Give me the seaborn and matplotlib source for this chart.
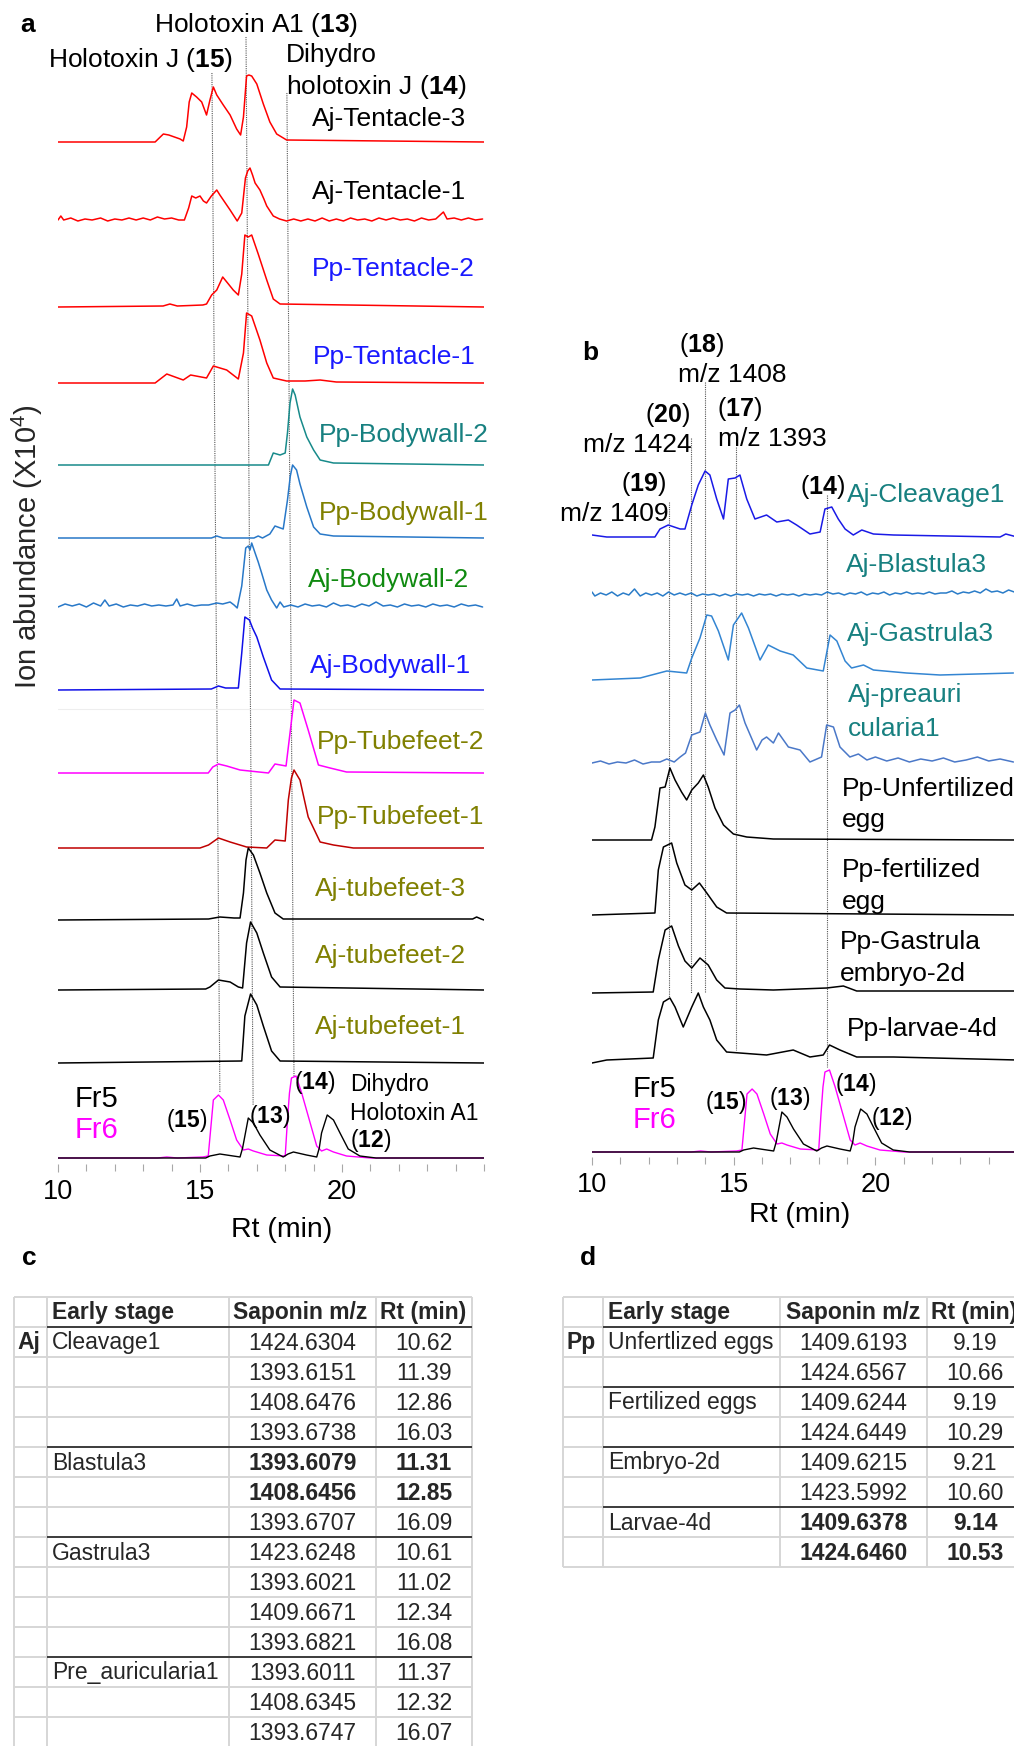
import matplotlib
matplotlib.use('Agg')
import matplotlib.pyplot as plt
import seaborn as sns
import numpy as np

sns.set_theme(style='white')
plt.rcParams['font.family'] = ['Liberation Sans', 'DejaVu Sans']
plt.rcParams['mathtext.fontset'] = 'custom'
plt.rcParams['mathtext.rm'] = 'Liberation Sans'
plt.rcParams['mathtext.bf'] = 'Liberation Sans:bold'
plt.rcParams['mathtext.it'] = 'Liberation Sans:italic'

# ---------------- DATA: panel a chromatograms (Rt in min, relative abundance) ---------------- #
aj_tent3_rt = [10.0, 13.42, 13.6, 13.71, 13.9, 14.3, 14.41, 14.53, 14.62, 14.71, 14.88, 15.06, 15.23, 15.35, 15.47,
               15.59, 15.82, 16.06, 16.29, 16.43, 16.53, 16.64, 16.72, 16.82, 17.0, 17.23, 17.46, 17.7, 18.05, 25.0]
aj_tent3_ab = [0, 0, 5, 8, 7, 3, 1, 15, 40, 49, 45, 40, 27, 42, 55,
               47, 37, 27, 13, 7, 25, 66, 67, 66, 58, 38, 20, 8, 2, 0]

aj_tent1_rt = [10.0, 10.1, 10.2, 10.45, 10.7, 10.95, 11.2, 11.5, 11.75, 12.0, 12.25, 12.5, 12.75, 13.0, 13.25, 13.5,
               13.75, 14.0, 14.25, 14.45, 14.6, 14.71, 14.85, 15.0, 15.12, 15.23, 15.4, 15.59, 15.7, 15.82, 16.06,
               16.31, 16.47, 16.6, 16.68, 16.76, 16.85, 16.94, 17.11, 17.25, 17.35, 17.58, 17.8, 18.05, 18.3, 18.55,
               18.8, 19.05, 19.3, 19.55, 19.8, 20.05, 20.3, 20.55, 20.8, 21.05, 21.3, 21.55, 21.8, 22.05, 22.3, 22.55,
               22.8, 23.05, 23.3, 23.57, 23.7, 23.95, 24.2, 24.45, 24.7, 24.95]
aj_tent1_ab = [3, 7, 3, 5, 2, 4, 3, 5, 2, 4, 3, 5, 3, 5, 3, 6,
               4, 5, 3, 3, 15, 27, 25, 27, 22, 20, 27, 33, 28, 23, 13,
               2, 10, 45, 52, 55, 48, 40, 33, 24, 17, 7, 4, 2, 4, 2,
               4, 2, 5, 2, 4, 2, 5, 3, 4, 2, 5, 3, 5, 3, 4, 2,
               5, 3, 4, 11, 4, 5, 3, 5, 3, 4]

pp_tent2_rt = [10.0, 13.7, 13.94, 14.2, 15.1, 15.23, 15.41, 15.59, 15.8, 16.0, 16.17, 16.35, 16.47, 16.58, 16.7,
               16.82, 17.05, 17.35, 17.58, 17.82, 25.0]
pp_tent2_ab = [0, 1, 3, 1, 2, 3, 12, 17, 30, 23, 17, 12, 33, 72, 70, 72, 53, 27, 8, 3, 0]

pp_tent1_rt = [10.0, 13.42, 13.83, 14.41, 14.67, 15.23, 15.47, 15.94, 16.35, 16.53, 16.64, 16.82, 17.11, 17.35,
               17.58, 18.05, 18.7, 19.23, 19.8, 25.0]
pp_tent1_ab = [0, 0, 9, 3, 8, 5, 17, 13, 4, 30, 70, 67, 43, 20, 5, 2, 2, 3, 1, 0]

pp_body2_rt = [10.0, 17.41, 17.58, 17.82, 18.0, 18.08, 18.17, 18.26, 18.35, 18.52, 18.76, 19.0, 19.23, 19.7, 25.0]
pp_body2_ab = [0, 0, 12, 10, 12, 32, 62, 76, 70, 48, 28, 15, 5, 2, 0]

pp_body1_rt = [10.0, 15.4, 15.59, 15.8, 16.9, 17.05, 17.2, 17.46, 17.64, 17.93, 18.08, 18.18, 18.26, 18.4, 18.52,
               18.76, 19.0, 19.23, 19.7, 25.0]
pp_body1_ab = [0, 0, 2, 0, 0, 2, 0, 4, 12, 9, 38, 62, 73, 68, 54, 31, 11, 4, 2, 0]

aj_body2_rt = [10.0, 10.25, 10.5, 10.75, 11.0, 11.25, 11.5, 11.65, 11.8, 12.05, 12.3, 12.55, 12.8, 13.05, 13.3,
               13.55, 13.8, 14.05, 14.18, 14.3, 14.55, 14.8, 15.05, 15.3, 15.59, 15.8, 16.06, 16.2, 16.31, 16.47,
               16.61, 16.7, 16.76, 16.82, 16.94, 17.05, 17.17, 17.35, 17.52, 17.7, 17.82, 17.95, 18.2, 18.45, 18.7,
               18.95, 19.2, 19.45, 19.7, 19.95, 20.2, 20.45, 20.7, 20.95, 21.2, 21.45, 21.7, 21.95, 22.2, 22.45,
               22.7, 22.95, 23.2, 23.45, 23.7, 23.95, 24.2, 24.45, 24.7, 24.95]
aj_body2_ab = [2, 5, 3, 5, 2, 6, 3, 9, 3, 5, 2, 4, 3, 5, 3,
               4, 3, 4, 10, 3, 5, 3, 4, 4, 6, 5, 7, 4, 1, 23,
               61, 63, 59, 66, 56, 47, 36, 19, 9, 1, 7, 2, 4, 2, 5,
               3, 4, 2, 6, 3, 4, 2, 5, 3, 7, 3, 4, 2, 5, 3,
               4, 2, 5, 3, 4, 2, 5, 3, 4, 2]

aj_body1_rt = [10.0, 15.4, 15.65, 15.9, 16.35, 16.47, 16.58, 16.74, 16.85, 17.0, 17.23, 17.52, 17.82, 25.0]
aj_body1_ab = [0, 1, 4, 2, 2, 37, 73, 70, 62, 53, 33, 10, 1, 0]

pp_tube2_rt = [10.0, 15.29, 15.45, 15.65, 15.94, 16.41, 17.41, 17.64, 18.03, 18.17, 18.31, 18.52, 18.81, 19.17,
               19.58, 20.16, 25.0]
pp_tube2_ab = [0, 0, 6, 9, 7, 3, 0, 9, 7, 40, 73, 70, 43, 8, 5, 1, 0]

pp_tube1_rt = [10.0, 15.0, 15.3, 15.65, 16.06, 16.64, 17.35, 17.64, 18.0, 18.11, 18.22, 18.31, 18.52, 18.81, 19.23,
               19.7, 20.4, 25.0]
pp_tube1_ab = [0, 0, 3, 10, 6, 1, 0, 8, 7, 48, 70, 78, 68, 31, 6, 3, 0, 0]

aj_tube3_rt = [10.0, 15.3, 15.7, 16.2, 16.41, 16.53, 16.62, 16.7, 16.88, 17.11, 17.35, 17.64, 17.93, 24.6, 24.74,
               24.9, 25.0]
aj_tube3_ab = [0, 1, 3, 2, 2, 27, 60, 72, 65, 47, 27, 7, 1, 1, 3, 1, 0]

aj_tube2_rt = [10.0, 15.2, 15.35, 15.65, 16.06, 16.35, 16.5, 16.64, 16.78, 17.0, 17.23, 17.52, 17.82, 25.0]
aj_tube2_ab = [0, 1, 3, 10, 8, 3, 2, 47, 68, 57, 37, 13, 3, 0]

aj_tube1_rt = [10.0, 16.47, 16.58, 16.78, 17.0, 17.23, 17.52, 17.82, 25.0]
aj_tube1_ab = [0, 2, 47, 69, 58, 37, 12, 2, 0]

# reference fractions (shared by panels a and b)
fr5_rt = [10.0, 15.2, 15.35, 15.7, 16.17, 16.41, 16.5, 16.58, 16.7, 16.88, 17.11, 17.46, 17.93, 18.1, 18.29,
          18.75, 19.11, 19.2, 19.28, 19.48, 19.7, 19.93, 20.22, 20.63, 21.2, 25.0]
fr5_ab = [0, 0, 2, 4, 2, 1, 10, 22, 40, 35, 23, 8, 1, 4, 6, 3, 1, 10, 25, 43, 38, 25, 9, 2, 0, 0]
fr6_rt = [10.0, 13.5, 13.83, 14.2, 15.1, 15.29, 15.38, 15.47, 15.65, 15.82, 16.06, 16.29, 16.53, 16.7, 16.88,
          17.35, 18.0, 18.08, 18.15, 18.22, 18.38, 18.58, 18.81, 19.11, 19.28, 19.46, 19.7, 20.16, 21.0, 25.0]
fr6_ab = [0, 0, 1, 0, 1, 2, 30, 58, 63, 58, 38, 18, 8, 9, 7, 3, 2, 38, 65, 80, 82, 65, 42, 12, 7, 9, 6, 2, 0, 0]

# ---------------- DATA: panel b chromatograms ---------------- #
aj_cleav1_rt = [10.0, 10.52, 12.22, 12.4, 12.69, 13.11, 13.28, 13.52, 13.75, 13.99, 14.16, 14.4, 14.64, 14.81,
                15.05, 15.22, 15.46, 15.75, 16.16, 16.52, 16.93, 17.22, 17.69, 18.05, 18.22, 18.46, 18.69, 18.93,
                19.22, 19.52, 19.93, 20.64, 24.4, 24.6, 25.0]
aj_cleav1_ab = [2, 0, 0, 8, 12, 8, 8, 32, 52, 66, 62, 38, 18, 58, 59, 62, 38, 18, 22, 15, 17, 12, 3, 5, 28, 30,
                18, 8, 2, 7, 3, 2, 0, 3, 0]

aj_blast3_rt = [10.0, 10.1, 10.3, 10.5, 10.7, 10.9, 11.1, 11.3, 11.5, 11.7, 11.9, 12.1, 12.3, 12.5, 12.7, 12.9,
                13.1, 13.3, 13.5, 13.7, 13.9, 14.1, 14.3, 14.5, 14.7, 14.9, 15.1, 15.3, 15.5, 15.7, 15.9, 16.1,
                16.3, 16.5, 16.7, 16.9, 17.1, 17.3, 17.5, 17.7, 17.9, 18.1, 18.3, 18.5, 18.7, 18.9, 19.1, 19.3,
                19.5, 19.7, 19.9, 20.1, 20.3, 20.5, 20.7, 20.9, 21.1, 21.3, 21.5, 21.7, 21.9, 22.1, 22.3, 22.5,
                22.7, 22.9, 23.1, 23.3, 23.5, 23.7, 23.9, 24.1, 24.3, 24.5, 24.7, 24.9]
aj_blast3_ab = [5, 1, 4, 2, 5, 1, 4, 2, 8, 1, 4, 2, 4, 1, 5, 2,
                4, 2, 4, 1, 3, 2, 3, 1, 3, 1, 3, 2, 3, 1, 3, 2,
                3, 1, 3, 2, 3, 1, 3, 2, 3, 2, 5, 3, 4, 2, 4, 3,
                5, 2, 4, 3, 5, 2, 4, 3, 5, 3, 4, 3, 5, 3, 4, 4,
                6, 3, 5, 4, 6, 4, 8, 5, 6, 4, 7, 5]

aj_gast3_rt = [10.0, 11.7, 12.64, 13.34, 13.52, 13.81, 14.05, 14.22, 14.46, 14.81, 14.99, 15.28, 15.52, 15.93,
               16.22, 16.64, 17.1, 17.58, 18.16, 18.4, 18.64, 18.93, 19.16, 19.58, 19.93, 21.1, 22.28, 24.87]
aj_gast3_ab = [-2, 0, 7, 5, 20, 40, 63, 62, 47, 18, 53, 65, 50, 18, 33, 27, 23, 10, 7, 43, 37, 17, 10, 13, 8, 5, 3, 5]

aj_preau1_rt = [10.0, 10.3, 10.6, 10.9, 11.2, 11.5, 11.8, 12.1, 12.4, 12.64, 12.9, 13.11, 13.3, 13.52, 13.81, 14.0,
                14.16, 14.4, 14.66, 14.87, 15.05, 15.2, 15.4, 15.81, 16.0, 16.16, 16.4, 16.58, 16.93, 17.34, 17.69,
                18.1, 18.28, 18.52, 18.75, 19.1, 19.4, 19.7, 20.0, 20.4, 20.8, 21.2, 21.6, 22.0, 22.4, 22.8, 23.2,
                23.6, 24.0, 24.4, 24.87]
aj_preau1_ab = [2, 4, 1, 3, 2, 5, 1, 3, 3, 6, 3, 8, 12, 30, 33, 52,
                40, 25, 10, 52, 55, 60, 42, 15, 25, 28, 22, 32, 18, 15, 3,
                8, 40, 38, 18, 8, 11, 5, 8, 4, 7, 3, 6, 4, 7, 3, 5,
                8, 4, 6, 3]

pp_unf_rt = [10.0, 12.1, 12.22, 12.4, 12.58, 12.75, 12.93, 13.16, 13.34, 13.52, 13.75, 13.93, 14.1, 14.34, 14.64,
             14.99, 15.46, 16.4, 25.0]
pp_unf_ab = [0, 0, 13, 52, 53, 72, 60, 48, 40, 50, 57, 65, 53, 32, 15, 6, 3, 1, 0]

pp_fert_rt = [10.0, 12.22, 12.34, 12.52, 12.81, 12.99, 13.28, 13.52, 13.79, 14.05, 14.4, 14.75, 25.0]
pp_fert_ab = [0, 2, 45, 68, 72, 52, 30, 25, 32, 22, 8, 2, 0]

pp_emb_rt = [10.0, 12.16, 12.34, 12.58, 12.81, 13.05, 13.28, 13.52, 13.81, 14.1, 14.4, 14.69, 15.22, 16.4, 18.28,
             18.87, 19.34, 25.0]
pp_emb_ab = [1, 2, 34, 64, 68, 48, 33, 26, 36, 29, 14, 6, 5, 4, 6, 8, 3, 3]

pp_larv_rt = [10.0, 10.52, 12.16, 12.34, 12.52, 12.75, 12.93, 13.22, 13.52, 13.75, 13.93, 14.16, 14.4, 14.75,
              15.22, 16.16, 17.1, 17.69, 18.16, 18.38, 18.75, 19.34, 20.64, 25.0]
pp_larv_ab = [-3, 0, 2, 40, 58, 62, 53, 33, 53, 67, 53, 40, 20, 8, 7, 5, 10, 3, 5, 15, 10, 3, 3, 0]

# ---------------- DATA: tables ---------------- #
table_headers = ['Early stage', 'Saponin m/z', 'Rt (min)']
table_c_stage = ['Cleavage1', '', '', '', 'Blastula3', '', '', 'Gastrula3', '', '', '', 'Pre_auricularia1', '', '']
table_c_mz = ['1424.6304', '1393.6151', '1408.6476', '1393.6738', '1393.6079', '1408.6456', '1393.6707',
              '1423.6248', '1393.6021', '1409.6671', '1393.6821', '1393.6011', '1408.6345', '1393.6747']
table_c_rt = ['10.62', '11.39', '12.86', '16.03', '11.31', '12.85', '16.09', '10.61', '11.02', '12.34', '16.08',
              '11.37', '12.32', '16.07']
table_c_bold = [4, 5]
table_c_groups = [4, 7, 11]

table_d_stage = ['Unfertlized eggs', '', 'Fertilized eggs', '', 'Embryo-2d', '', 'Larvae-4d', '']
table_d_mz = ['1409.6193', '1424.6567', '1409.6244', '1424.6449', '1409.6215', '1423.5992', '1409.6378', '1424.6460']
table_d_rt = ['9.19', '10.66', '9.19', '10.29', '9.21', '10.60', '9.14', '10.53']
table_d_bold = [6, 7]
table_d_groups = [2, 4, 6]

# ---------------- LAYOUT / STYLE ---------------- #
W, H = 1014, 1746
fig = plt.figure(figsize=(W / 100, H / 100), dpi=100)
FS = 19


def px_axes(left, top, right, bottom):
    return fig.add_axes([left / W, 1 - bottom / H, (right - left) / W, (bottom - top) / H])


def style_axis(ax):
    for s in ax.spines.values():
        s.set_visible(False)
    ax.set_yticks([])
    ax.set_xticks([10, 15, 20])
    ax.set_xticks(np.arange(10, 26, 1), minor=True)
    ax.tick_params(axis='x', which='both', bottom=True, direction='out', color='#a8a8a8', width=0.8)
    ax.tick_params(axis='x', which='major', length=6, labelsize=19.5, pad=5, labelcolor='black')
    ax.tick_params(axis='x', which='minor', length=5)
    ax.set_xlabel('')
    ax.set_ylabel('')
    ax.patch.set_alpha(0)
    ax.grid(False)


def draw_trace(ax, ybottom, rt, ab, base, color, lw=1.1):
    y = np.asarray(ab, dtype=float) + (ybottom - base)
    sns.lineplot(x=rt, y=y, ax=ax, color=color, lw=lw, estimator=None, sort=False)


# ---------------- PANEL A ---------------- #
A_BOT = 1164
ax_a = px_axes(58, 20, 484, A_BOT)
ax_a.set_xlim(10, 25)
ax_a.set_ylim(0, A_BOT - 20)

ax_a.plot([10, 25], [A_BOT - 709] * 2, color='#eeeeee', lw=0.8)

traces_a = [
    (aj_tent3_rt, aj_tent3_ab, 142, '#ff0000', 'Aj-Tentacle-3', 312, 119, 'black'),
    (aj_tent1_rt, aj_tent1_ab, 223, '#ff0000', 'Aj-Tentacle-1', 312, 192, 'black'),
    (pp_tent2_rt, pp_tent2_ab, 307, '#ff0000', 'Pp-Tentacle-2', 312, 269, '#1a1aff'),
    (pp_tent1_rt, pp_tent1_ab, 383, '#ff0000', 'Pp-Tentacle-1', 313, 357, '#1a1aff'),
    (pp_body2_rt, pp_body2_ab, 465, '#178a8a', 'Pp-Bodywall-2', 319, 435, '#178080'),
    (pp_body1_rt, pp_body1_ab, 538, '#2878c8', 'Pp-Bodywall-1', 319, 513, '#808000'),
    (aj_body2_rt, aj_body2_ab, 609, '#2878c8', 'Aj-Bodywall-2', 308, 580, '#108a10'),
    (aj_body1_rt, aj_body1_ab, 690, '#1010e8', 'Aj-Bodywall-1', 310, 666, '#1a1aff'),
    (pp_tube2_rt, pp_tube2_ab, 773, '#ff00ff', 'Pp-Tubefeet-2', 317, 742, '#808000'),
    (pp_tube1_rt, pp_tube1_ab, 848, '#c00000', 'Pp-Tubefeet-1', 317, 817, '#808000'),
    (aj_tube3_rt, aj_tube3_ab, 920, 'black', 'Aj-tubefeet-3', 315, 889, '#808000'),
    (aj_tube2_rt, aj_tube2_ab, 990, 'black', 'Aj-tubefeet-2', 315, 956, '#808000'),
    (aj_tube1_rt, aj_tube1_ab, 1063, 'black', 'Aj-tubefeet-1', 315, 1027, '#808000'),
]
for rt, ab, base, col, lab, lx, ly, lcol in traces_a:
    draw_trace(ax_a, A_BOT, rt, ab, base, col)
    fig.text(lx / W, 1 - ly / H, lab, fontsize=FS, color=lcol, va='center', ha='left')

draw_trace(ax_a, A_BOT, fr6_rt, fr6_ab, 1158, '#ff00ff', lw=1.0)
draw_trace(ax_a, A_BOT, fr5_rt, fr5_ab, 1158, 'black', lw=1.0)

# slanted guide lines for compounds 15, 13, 14
guide_a = [((15.42, 73), (15.70, 1093)), ((16.62, 37), (16.87, 1105)), ((18.06, 93), (18.31, 1077))]
for (x0, y0), (x1, y1) in guide_a:
    ax_a.plot([x0, x1], [A_BOT - y0, A_BOT - y1], color='#555555', lw=0.8, ls=(0, (1, 1)), zorder=0)

style_axis(ax_a)

# ---------------- PANEL B ---------------- #
B_BOT = 1157
ax_b = px_axes(592, 330, 592 + 15 * 28.34, B_BOT)
ax_b.set_xlim(10, 25)
ax_b.set_ylim(0, B_BOT - 330)

traces_b = [
    (aj_cleav1_rt, aj_cleav1_ab, 537, '#1a1ae6'),
    (aj_blast3_rt, aj_blast3_ab, 597, '#2a7cc8'),
    (aj_gast3_rt, aj_gast3_ab, 678, '#3385d2'),
    (aj_preau1_rt, aj_preau1_ab, 765, '#4a78c8'),
    (pp_unf_rt, pp_unf_ab, 840, 'black'),
    (pp_fert_rt, pp_fert_ab, 915, 'black'),
    (pp_emb_rt, pp_emb_ab, 994, 'black'),
    (pp_larv_rt, pp_larv_ab, 1060, 'black'),
]
for rt, ab, base, col in traces_b:
    draw_trace(ax_b, B_BOT, rt, ab, base, col)
draw_trace(ax_b, B_BOT, fr6_rt, fr6_ab, 1152, '#ff00ff', lw=1.0)
draw_trace(ax_b, B_BOT, fr5_rt, fr5_ab, 1152, 'black', lw=1.0)

guide_b_rt = [12.72, 13.49, 13.99, 15.08, 18.29]
guide_b_top = [502, 438, 382, 447, 495]
guide_b_bot = [997, 993, 993, 1050, 1067]
for x, t, b in zip(guide_b_rt, guide_b_top, guide_b_bot):
    ax_b.plot([x, x], [B_BOT - t, B_BOT - b], color='#555555', lw=0.8, ls=(0, (1, 1)), zorder=0)

style_axis(ax_b)

labels_b = [
    ('Aj-Cleavage1', 847, 495, '#178080'), ('Aj-Blastula3', 846, 565, '#178080'),
    ('Aj-Gastrula3', 847, 634, '#178080'), ('Aj-preauri', 848, 695, '#178080'),
    ('cularia1', 848, 729, '#178080'), ('Pp-Unfertilized', 842, 789, 'black'),
    ('egg', 842, 820, 'black'), ('Pp-fertilized', 842, 870, 'black'), ('egg', 842, 902, 'black'),
    ('Pp-Gastrula', 840, 942, 'black'), ('embryo-2d', 840, 974, 'black'), ('Pp-larvae-4d', 847, 1029, 'black'),
]
for lab, lx, ly, lcol in labels_b:
    fig.text(lx / W, 1 - ly / H, lab, fontsize=FS, color=lcol, va='center', ha='left')


# ---------------- ANNOTATIONS ---------------- #
def ftxt(x, y, s, fs=FS, ha='left', color='black', **kw):
    fig.text(x / W, 1 - y / H, s, fontsize=fs, ha=ha, va='center', color=color, **kw)


ftxt(20, 25, 'a', fs=19, weight='bold')
ftxt(582, 353, 'b', fs=19, weight='bold')
ftxt(22, 1258, 'c', fs=19, weight='bold')
ftxt(580, 1258, 'd', fs=19, weight='bold')

ftxt(256, 25, r'Holotoxin A1 ($\mathbf{13}$)', ha='center')
ftxt(141, 60, r'Holotoxin J ($\mathbf{15}$)', ha='center')
ftxt(286, 55, 'Dihydro')
ftxt(286, 87, r'holotoxin J ($\mathbf{14}$)')

fig.text(27 / W, 1 - 547 / H, r'Ion abundance (X10$^4$)', fontsize=21, rotation=90, ha='center', va='center')
ftxt(282, 1230, 'Rt (min)', fs=20.5, ha='center')
ftxt(800, 1215, 'Rt (min)', fs=20.5, ha='center')

# panel a reference labels
ftxt(75, 1099, 'Fr5', fs=21)
ftxt(75, 1130, 'Fr6', fs=21, color='#ff00ff')
ftxt(187, 1120, r'($\mathbf{15}$)', fs=16.5, ha='center')
ftxt(270, 1117, r'($\mathbf{13}$)', fs=16.5, ha='center')
ftxt(315, 1082, r'($\mathbf{14}$)', fs=16.5, ha='center')
ftxt(350, 1085, 'Dihydro', fs=16.5)
ftxt(350, 1113, 'Holotoxin A1', fs=16.5)
ftxt(350, 1141, r'($\mathbf{12}$)', fs=16.5)

# panel b labels
ftxt(633, 1089, 'Fr5', fs=21)
ftxt(633, 1120, 'Fr6', fs=21, color='#ff00ff')
ftxt(726, 1102, r'($\mathbf{15}$)', fs=16.5, ha='center')
ftxt(790, 1099, r'($\mathbf{13}$)', fs=16.5, ha='center')
ftxt(856, 1085, r'($\mathbf{14}$)', fs=16.5, ha='center')
ftxt(892, 1118, r'($\mathbf{12}$)', fs=16.5, ha='center')

ftxt(702, 345, r'($\mathbf{18}$)', fs=18, ha='center')
ftxt(678, 375, 'm/z 1408')
ftxt(668, 415, r'($\mathbf{20}$)', fs=18, ha='center')
ftxt(583, 445, 'm/z 1424')
ftxt(740, 409, r'($\mathbf{17}$)', fs=18, ha='center')
ftxt(718, 439, 'm/z 1393')
ftxt(644, 484, r'($\mathbf{19}$)', fs=18, ha='center')
ftxt(560, 514, 'm/z 1409')
ftxt(823, 487, r'($\mathbf{14}$)', fs=18, ha='center')

# ---------------- TABLES ---------------- #
ov = fig.add_axes([0, 0, 1, 1], zorder=5)
ov.set_xlim(0, W)
ov.set_ylim(H, 0)
ov.axis('off')

TFS = 16.5
ROW = 30


def draw_table(cols, top, species, stage, mz, rt, bold_rows, groups, head_x, species_x):
    n = len(mz) + 1
    bot = top + n * ROW
    for i in range(n + 1):
        ov.plot([cols[0], cols[-1]], [top + i * ROW] * 2, color='#d6d6d6', lw=1.4, solid_capstyle='butt')
    for x in cols:
        ov.plot([x, x], [top, bot], color='#d6d6d6', lw=1.4, solid_capstyle='butt')
    for r in [0] + groups:
        y = top + (r + 1) * ROW
        ov.plot([cols[1], cols[-1]], [y, y], color='#3c3c3c', lw=1.4, solid_capstyle='butt')
    yc = top + ROW / 2 + 1
    for hx, h in zip(head_x, table_headers):
        ov.text(hx, yc, h, fontsize=TFS, weight='bold', va='center', ha='left')
    ov.text(species_x, yc + ROW, species, fontsize=TFS, weight='bold', va='center', ha='left')
    for i in range(len(mz)):
        y = yc + (i + 1) * ROW
        wt = 'bold' if i in bold_rows else 'normal'
        ov.text(head_x[0], y, stage[i], fontsize=TFS, va='center', ha='left')
        ov.text((cols[2] + cols[3]) / 2, y, mz[i], fontsize=TFS, va='center', ha='center', weight=wt)
        ov.text((cols[3] + cols[4]) / 2, y, rt[i], fontsize=TFS, va='center', ha='center', weight=wt)


draw_table([14, 47, 229, 376, 472], 1297, 'Aj', table_c_stage, table_c_mz, table_c_rt,
           table_c_bold, table_c_groups, [52, 233, 380], 17)
draw_table([563, 603, 780, 927, 1023], 1297, 'Pp', table_d_stage, table_d_mz, table_d_rt,
           table_d_bold, table_d_groups, [608, 786, 931], 567)

fig.savefig('out.png', dpi=100)
